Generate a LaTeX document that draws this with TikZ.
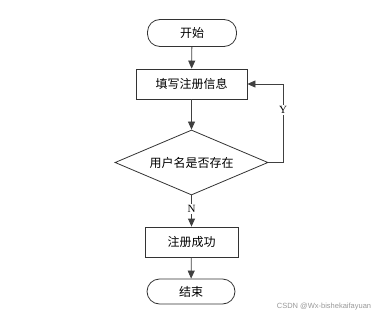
\documentclass[tikz,border=0pt]{standalone}
\usepackage{fontspec}
\setmainfont{Liberation Serif}
\newfontfamily\cjk{Noto Sans CJK SC}
\newfontfamily\wmfont{Liberation Sans}
\usetikzlibrary{shapes.geometric,arrows.meta}

\tikzset{
    terminal/.style={draw=black!80, line width=0.8pt, rounded corners=12.5pt, font=\cjk\fontsize{12}{14}\selectfont},
    process/.style={draw=black!80, line width=0.8pt, font=\cjk\fontsize{12}{14}\selectfont},
    decision/.style={diamond, aspect=2.35, draw=black!80, line width=0.8pt, inner sep=0pt, font=\cjk\fontsize{12}{14}\selectfont},
    flow/.style={draw=black!75, line width=0.8pt, -{Triangle[width=7pt,length=8pt]}},
    yn/.style={fill=white, inner sep=1pt, font=\fontsize{11}{13}\selectfont}
}

\begin{document}
\begin{tikzpicture}[x=1pt, y=-1pt]
        \useasboundingbox (0,0) rectangle (385,318);

        % The steps
        \node[terminal, minimum width=89pt, minimum height=27pt] (start) at (192,33) {开始};
        \node[process, minimum width=111pt, minimum height=30pt] (info) at (191.5,84) {填写注册信息};
        \node[decision, minimum width=153pt, minimum height=65pt] (check) at (191.5,162.5) {用户名是否存在};
        \node[process, minimum width=93pt, minimum height=30pt] (done) at (191.5,242) {注册成功};
        \node[terminal, minimum width=88pt, minimum height=25pt] (stop) at (191,291.5) {结束};

        % The connectors
        \draw[flow] (start) -- (info);
        \draw[flow] (info) -- (check);
        \draw[flow] (check) -- (done);
        \draw[flow] (done) -- (stop);
        \draw[flow] (check.east) -- ++(15,0) |- (info.east);

        % The labels
        \node[yn] (yes) at (283,110) {Y};
        \node[yn] (no) at (191.5,209) {N};

        % The watermark
        \node[text=black!40, font=\wmfont\fontsize{7.5}{9}\selectfont] (mark) at (324,307) {CSDN @Wx-bishekaifayuan};
    \end{tikzpicture}
\end{document}
